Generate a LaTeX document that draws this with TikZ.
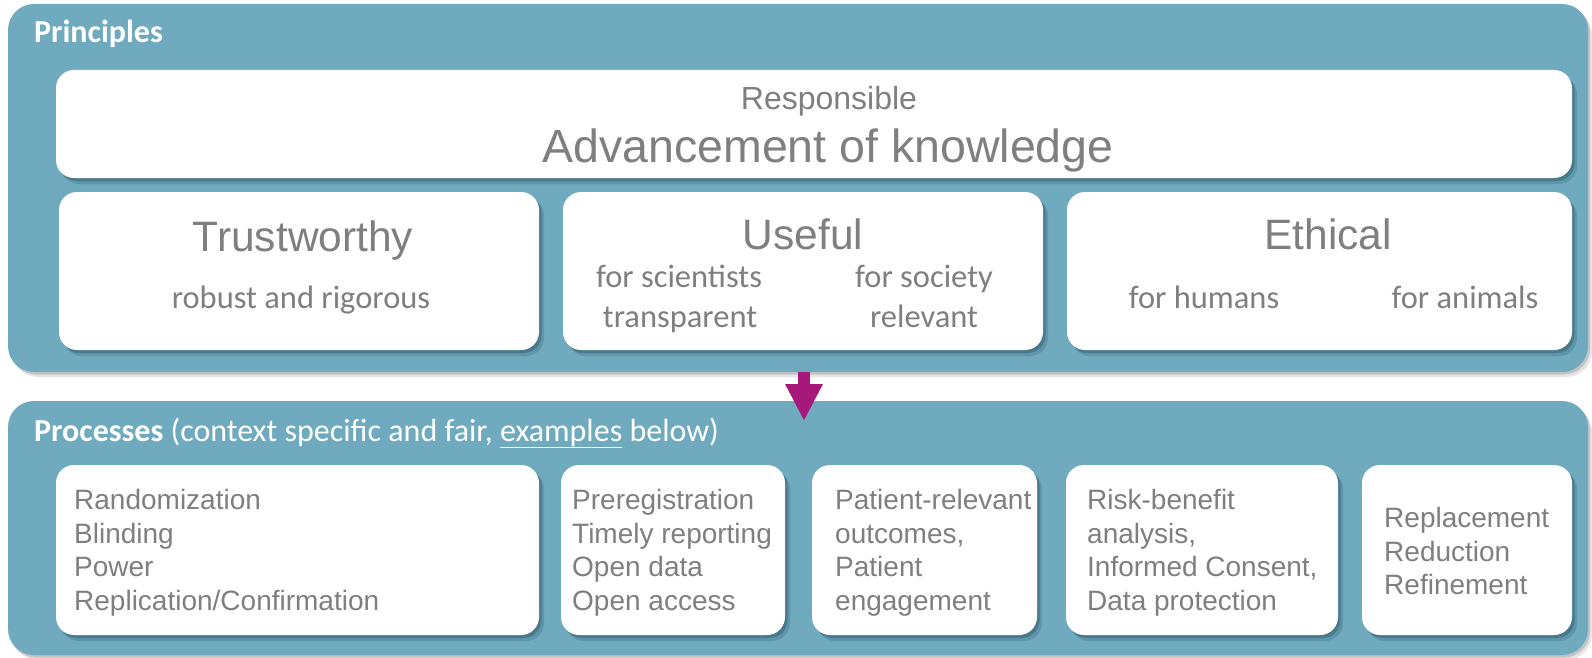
\documentclass[tikz,border=0pt]{standalone}
\usepackage{fontspec}
\setmainfont{Liberation Sans}
\newfontfamily\calib{Carlito}
\usetikzlibrary{shadows,fit,arrows.meta}
\definecolor{panel}{HTML}{6FAABF}
\definecolor{boxshadow}{HTML}{2F5A6A}
\definecolor{txtgray}{HTML}{7F7F7F}
\definecolor{arrowc}{HTML}{A6197B}
\begin{document}
\begin{tikzpicture}[x=1pt,y=-1pt,
  panelbox/.style={fill=panel, rounded corners=26pt, inner sep=0pt,
     general shadow={fill=black, opacity=.10, shadow xshift=4pt, shadow yshift=-5pt},
     general shadow={fill=black, opacity=.15, shadow xshift=2pt, shadow yshift=-2.5pt}},
  wbox/.style={fill=white, rounded corners=18pt, inner sep=0pt,
     general shadow={fill=boxshadow, opacity=.25, shadow xshift=5pt, shadow yshift=-6pt},
     general shadow={fill=boxshadow, opacity=.45, shadow xshift=2.5pt, shadow yshift=-3pt}},
  title/.style={anchor=base west, inner sep=0pt, text=white, font={\calib\fontsize{32}{38}\selectfont}},
  head/.style={anchor=base, inner sep=0pt, text=txtgray, font={\fontsize{42.5}{50}\selectfont}},
  sub/.style={anchor=base, inner sep=0pt, text=txtgray, font={\calib\fontsize{32.5}{38}\selectfont}},
  ptext/.style={anchor=north west, inner sep=0pt, align=left, text=txtgray, font={\fontsize{28}{33.7}\selectfont}},
  bigarrow/.style={arrowc, line width=12pt, -{Triangle[width=35pt,length=37pt]}}
]
\useasboundingbox (0,0) rectangle (1592,658);

% panels
\node[panelbox, fit={(8,4) (1588,372)}] (principles) {};
\node[panelbox, fit={(8,401) (1588,655)}] (processes) {};

\node[title] (ptitle) at (34,43) {\bfseries Principles};
\node[title] (prtitle) at (34,441) {{\bfseries Processes} (context specific and fair, \underline{examples} below)};

% principle boxes
\node[wbox, fit={(56,70) (1572,178)}] (adv) {};
\node[anchor=base, inner sep=0pt, text=txtgray, font={\fontsize{32}{36}\selectfont}] (resp) at (829,110) {Responsible};
\node[anchor=base, inner sep=0pt, text=txtgray, font={\fontsize{46.5}{54}\selectfont}] (advt) at (828,162) {Advancement of knowledge};

\node[wbox, fit={(59,192) (539,350)}] (trust) {};
\node[head] (trustt) at (303,251) {Trustworthy};
\node[sub] (trusts) at (301,308) {robust and rigorous};

\node[wbox, fit={(563,192) (1043,350)}] (useful) {};
\node[head] (usefult) at (803,249) {Useful};
\node[sub] (us1) at (679,287) {for scientists};
\node[sub] (us2) at (680,327) {transparent};
\node[sub] (us3) at (924,287) {for society};
\node[sub] (us4) at (924,327) {relevant};

\node[wbox, fit={(1067,192) (1572,350)}] (ethical) {};
\node[head] (etht) at (1328,249) {Ethical};
\node[sub] (eth1) at (1204,308) {for humans};
\node[sub] (eth2) at (1465,308) {for animals};

% process boxes
\node[wbox, fit={(56,465) (539,635)}] (pb1) {};
\node[ptext] (pt1) at (74,489) {Randomization\\Blinding\\Power\\Replication/Confirmation};
\node[wbox, fit={(561,465) (785,635)}] (pb2) {};
\node[ptext] (pt2) at (572,489) {Preregistration\\Timely reporting\\Open data\\Open access};
\node[wbox, fit={(812,465) (1037,635)}] (pb3) {};
\node[ptext] (pt3) at (835,489) {Patient-relevant\\outcomes,\\Patient\\engagement};
\node[wbox, fit={(1066,465) (1338,635)}] (pb4) {};
\node[ptext] (pt4) at (1087,489) {Risk-benefit\\analysis,\\Informed Consent,\\Data protection};
\node[wbox, fit={(1362,465) (1572,635)}] (pb5) {};
\node[ptext] (pt5) at (1384,507) {Replacement\\Reduction\\Refinement};

% arrow
\coordinate (astart) at (804,372);
\coordinate (aend) at (804,421);
\draw[bigarrow] (astart) -- (aend);
\end{tikzpicture}
\end{document}
